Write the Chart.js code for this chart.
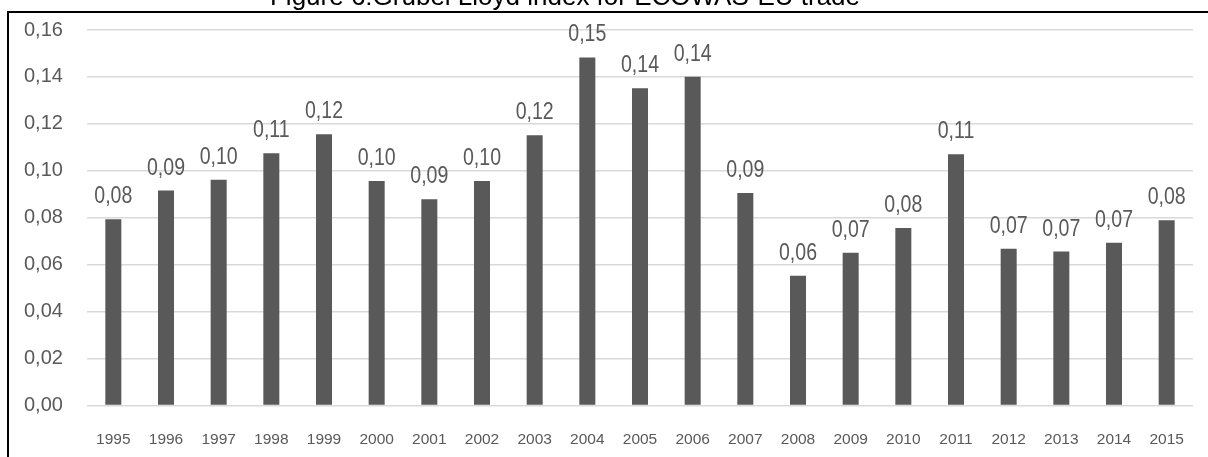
<!DOCTYPE html>
<html>
<head>
<meta charset="utf-8">
<script src="https://cdn.jsdelivr.net/npm/chart.js@4.4.0/dist/chart.umd.min.js"></script>
<style>
  html, body { margin: 0; padding: 0; background: #fff; overflow: hidden; }
  #wrap { position: relative; width: 1208px; height: 457px; }
  #frame { position: absolute; left: 7px; top: 11px; width: 1201px; height: 446px;
           border-top: 2px solid #000; border-left: 2px solid #000; pointer-events: none; }
</style>
</head>
<body>
<div id="wrap">
  <canvas id="chart" width="1208" height="457"></canvas>
  <div id="frame"></div>
</div>
<script>
const title = 'Figure 6:Grubel Lloyd index for ECOWAS-EU trade';
const years = ['1995', '1996', '1997', '1998', '1999', '2000', '2001', '2002', '2003', '2004', '2005',
  '2006', '2007', '2008', '2009', '2010', '2011', '2012', '2013', '2014', '2015'];
const glIndex = [0.0794, 0.0916, 0.0962, 0.1075, 0.1156, 0.0957, 0.0879, 0.0957, 0.1152, 0.1483, 0.1352,
  0.1401, 0.0905, 0.0553, 0.0651, 0.0756, 0.1071, 0.0668, 0.0656, 0.0694, 0.0789];
const yTickLabels = ['0,00', '0,02', '0,04', '0,06', '0,08', '0,10', '0,12', '0,14', '0,16'];

const grey = '#595959';
const sans = "'Liberation Sans', Arial, sans-serif";

// values on top of the bars, comma decimals, squeezed a bit like a narrow font
const valueLabels = {
  id: 'valueLabels',
  afterDatasetsDraw(chart) {
    const ctx = chart.ctx;
    const meta = chart.getDatasetMeta(0);
    ctx.save();
    ctx.font = '23px ' + sans;
    ctx.fillStyle = grey;
    ctx.textAlign = 'center';
    ctx.textBaseline = 'alphabetic';
    meta.data.forEach((bar, i) => {
      ctx.save();
      ctx.translate(bar.x, bar.y - 16);
      ctx.scale(0.85, 1);
      ctx.fillText(glIndex[i].toFixed(2).replace('.', ','), 0, 0);
      ctx.restore();
    });
    ctx.restore();
  }
};

// caption sits above the frame and is cut by the page top
const caption = {
  id: 'caption',
  afterDraw(chart) {
    const ctx = chart.ctx;
    ctx.save();
    ctx.font = '26px ' + sans;
    ctx.fillStyle = '#000';
    ctx.textAlign = 'center';
    ctx.textBaseline = 'alphabetic';
    ctx.fillText(title, 565, 5);
    ctx.restore();
  }
};

new Chart(document.getElementById('chart').getContext('2d'), {
  type: 'bar',
  data: {
    labels: years,
    datasets: [{
      data: glIndex,
      backgroundColor: grey,
      borderWidth: 0,
      barPercentage: 0.304,
      categoryPercentage: 1
    }]
  },
  options: {
    responsive: false,
    animation: false,
    devicePixelRatio: 1,
    layout: { padding: { left: 24, right: 15, top: 30, bottom: 0 } },
    plugins: {
      legend: { display: false },
      tooltip: { enabled: false }
    },
    scales: {
      x: {
        grid: { display: false },
        border: { display: false },
        ticks: {
          color: grey,
          font: { family: sans, size: 15.5 },
          padding: 17,
          maxRotation: 0,
          autoSkip: false
        },
        afterFit(scale) { scale.height = 51.5; }
      },
      y: {
        min: 0,
        max: 0.16,
        grid: { color: '#d9d9d9', lineWidth: 1.5, drawTicks: false },
        border: { display: false },
        ticks: {
          stepSize: 0.02,
          color: grey,
          font: { family: sans, size: 20 },
          padding: 0,
          crossAlign: 'far',
          callback: (v, i) => yTickLabels[i]
        },
        afterFit(scale) { scale.width = 63; }
      }
    }
  },
  plugins: [valueLabels, caption]
});
</script>
</body>
</html>
